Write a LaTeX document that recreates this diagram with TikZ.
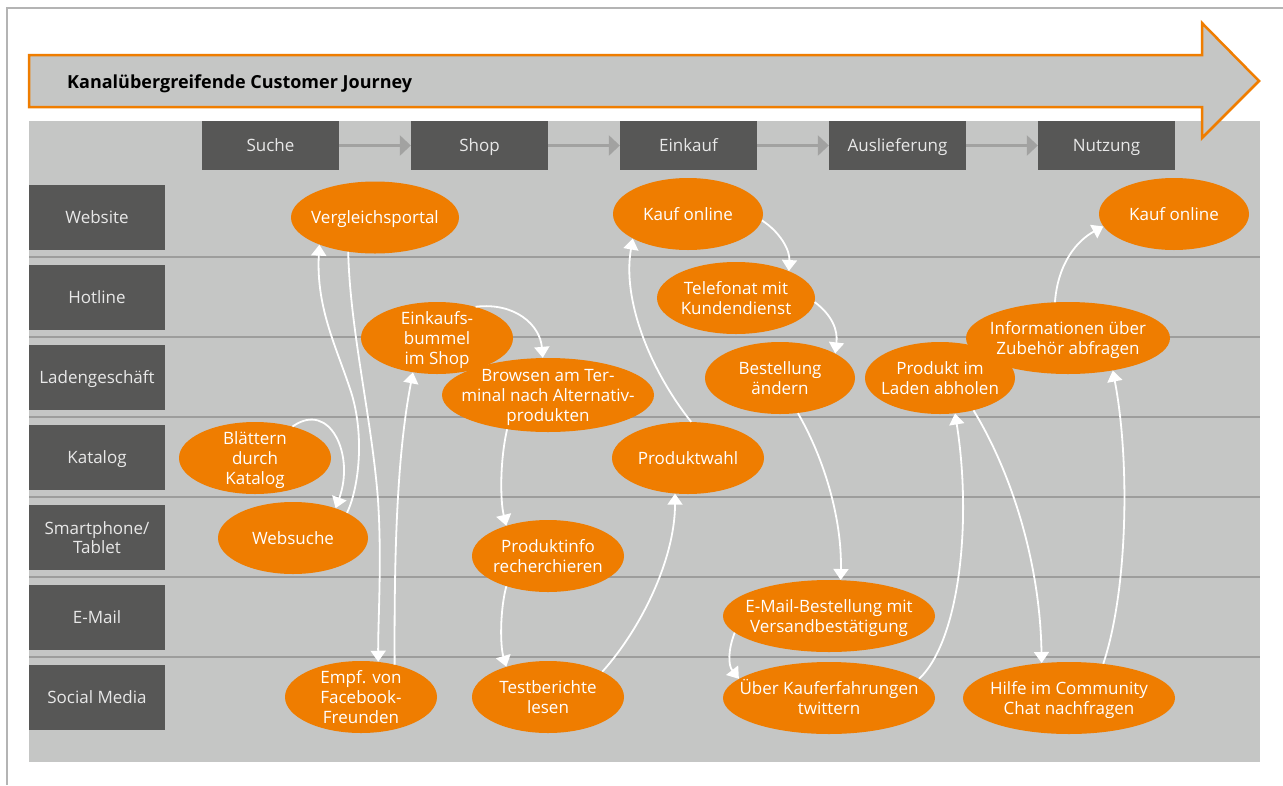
\documentclass[tikz,border=0pt]{standalone}
\usepackage{fontspec}
\setmainfont{Open Sans}
\usetikzlibrary{arrows.meta,shapes.geometric}
\definecolor{cjorange}{HTML}{EF7D00}
\definecolor{cjdark}{HTML}{575756}
\definecolor{cjbg}{HTML}{C5C6C5}
\definecolor{cjsep}{HTML}{9D9D9C}
\definecolor{cjhdrarrow}{HTML}{A2A2A1}
\definecolor{cjframe}{HTML}{B4B4B4}
\definecolor{cjlight}{HTML}{E8E8E8}
\begin{document}
\begin{tikzpicture}[x=1pt,y=-1pt,
  every node/.style={font=\fontsize{17}{20}\selectfont},
  one/.style={text height=12.2pt,text depth=0pt},
  two/.style={text height=32.2pt,text depth=0pt},
  three/.style={text height=52.2pt,text depth=0pt},
  lanebox/.style={rectangle,fill=cjdark,text=cjlight,minimum width=136pt,minimum height=65pt,inner sep=0,align=center,one},
  hdrbox/.style={rectangle,fill=cjdark,text=cjlight,minimum width=137pt,minimum height=49pt,inner sep=0,one},
  ell/.style={ellipse,fill=cjorange,draw=none,inner sep=0,minimum height=72pt},
  etext/.style={text=white,align=center,inner sep=0},
  flow/.style={draw=white,line width=1.8pt,-{Triangle[length=11pt,width=15pt]}},
  hdrflow/.style={draw=cjhdrarrow,line width=3pt,-{Triangle[length=11pt,width=20pt]}},
  sepline/.style={draw=cjsep,line width=2.5pt},
]
\useasboundingbox (0,0) rectangle (1283,785);
\fill[white] (0,0) rectangle (1283,785);
% frame
\draw[cjframe,line width=1.2pt] (7,785) -- (7,8) -- (1283,8);
% background
\fill[cjbg] (29,121) rectangle (1260,762);
% big arrow
\draw[cjorange,line width=2.5pt,fill=cjbg,line join=miter]
  (29,55) -- (1202,55) -- (1202,23) -- (1259,81) -- (1202,138) -- (1202,107) -- (29,107) -- cycle;
\node[anchor=west,font=\fontsize{18}{20}\selectfont\bfseries,inner sep=0,text height=13pt,text depth=0pt] (title) at (67,81.5) {Kanalübergreifende Customer Journey};
% separators
\foreach \yy in {257,337,417,497,577,657} {\draw[sepline] (29,\yy) -- (1260,\yy);}
% headers
\node[hdrbox] (suche) at (270.5,145.5) {Suche};
\node[hdrbox] (shop) at (479.5,145.5) {Shop};
\node[hdrbox] (einkauf) at (688.5,145.5) {Einkauf};
\node[hdrbox] (auslieferung) at (897.5,145.5) {Auslieferung};
\node[hdrbox] (nutzung) at (1106.5,145.5) {Nutzung};
\draw[hdrflow] (suche.east) -- (shop.west);
\draw[hdrflow] (shop.east) -- (einkauf.west);
\draw[hdrflow] (einkauf.east) -- (auslieferung.west);
\draw[hdrflow] (auslieferung.east) -- (nutzung.west);
% lanes
\node[lanebox] (website) at (97,217.5) {Website};
\node[lanebox] (hotline) at (97,297.5) {Hotline};
\node[lanebox] (laden) at (97,377.5) {Ladengeschäft};
\node[lanebox] (katalog) at (97,457.5) {Katalog};
\node[lanebox,text height=31.2pt,font=\fontsize{17}{19}\selectfont] (smart) at (97,537.5) {Smartphone/\\Tablet};
\node[lanebox] (emaillane) at (97,617.5) {E-Mail};
\node[lanebox] (social) at (97,697.5) {Social Media};
% ellipses
\node[ell,minimum width=168pt] (verg) at (375,217.5) {};
\node[etext,one] (verg-t) at (verg) {Vergleichsportal};
\node[ell,minimum width=150pt] (kauf1) at (688,214) {};
\node[etext,one] (kauf1-t) at (kauf1) {Kauf online};
\node[ell,minimum width=150pt] (kauf2) at (1174,214) {};
\node[etext,one] (kauf2-t) at (kauf2) {Kauf online};
\node[ell,minimum width=158pt] (tel) at (736,298) {};
\node[etext,two] (tel-t) at (tel) {Telefonat mit\\Kundendienst};
\node[ell,minimum width=152pt] (bummel) at (437,338) {};
\node[etext,three] (bummel-t) at (bummel) {Einkaufs-\\bummel\\im Shop};
\node[ell,minimum width=212pt,minimum height=74pt] (browsen) at (548,395) {};
\node[etext,three] (browsen-t) at (browsen) {Browsen am Ter-\\minal nach Alternativ-\\produkten};
\node[ell,minimum width=150pt] (bestell) at (780,378) {};
\node[etext,two] (bestell-t) at (bestell) {Bestellung\\ändern};
\node[ell,minimum width=150pt] (abholen) at (940,378) {};
\node[etext,two] (abholen-t) at (abholen) {Produkt im\\Laden abholen};
\node[ell,minimum width=204pt] (info) at (1068,338) {};
\node[etext,two] (info-t) at (info) {Informationen über\\Zubehör abfragen};
\node[ell,minimum width=152pt] (blaettern) at (255,458) {};
\node[etext,three] (blaettern-t) at (blaettern) {Blättern\\durch\\Katalog};
\node[ell,minimum width=152pt] (pwahl) at (688,458) {};
\node[etext,one] (pwahl-t) at (pwahl) {Produktwahl};
\node[ell,minimum width=150pt] (websuche) at (293,538) {};
\node[etext,one] (websuche-t) at (websuche) {Websuche};
\node[ell,minimum width=152pt] (pinfo) at (548,556) {};
\node[etext,two] (pinfo-t) at (pinfo) {Produktinfo\\recherchieren};
\node[ell,minimum width=212pt] (emailb) at (829,616) {};
\node[etext,two] (emailb-t) at (emailb) {E-Mail-Bestellung mit\\Versandbestätigung};
\node[ell,minimum width=152pt] (empf) at (361,697) {};
\node[etext,three] (empf-t) at (empf) {Empf. von\\Facebook-\\Freunden};
\node[ell,minimum width=152pt] (test) at (548,697) {};
\node[etext,two] (test-t) at (test) {Testberichte\\lesen};
\node[ell,minimum width=212pt] (ueber) at (829,698) {};
\node[etext,two] (ueber-t) at (ueber) {Über Kauferfahrungen\\twittern};
\node[ell,minimum width=212pt] (hilfe) at (1069,698) {};
\node[etext,two] (hilfe-t) at (hilfe) {Hilfe im Community\\Chat nachfragen};
% connectors
\draw[flow] (blaettern.40) .. controls (330,400) and (355,455) .. (websuche.35);
\draw[flow] (websuche.25) .. controls (358,490) and (365,440) .. (352,395) .. controls (338,350) and (316,310) .. (verg.206);
\draw[flow] (verg.232) .. controls (350,330) and (372,420) .. (378,500) .. controls (382,560) and (378,620) .. (empf.64);
\draw[flow] (empf.44) .. controls (394,540) and (398,450) .. (bummel.235);
\draw[flow] (bummel.39) .. controls (515,302) and (540,325) .. (browsen.98);
\draw[flow] (browsen.220) .. controls (500,460) and (500,500) .. (pinfo.144);
\draw[flow] (pinfo.216) .. controls (500,610) and (500,645) .. (test.144);
\draw[flow] (test.25) .. controls (640,630) and (675,560) .. (pwahl.250);
\draw[flow] (pwahl.85) .. controls (650,370) and (622,300) .. (kauf1.204);
\draw[flow] (kauf1.-5) .. controls (780,232) and (790,250) .. (tel.27);
\draw[flow] (tel.-3) .. controls (832,315) and (838,330) .. (bestell.24);
\draw[flow] (bestell.-63) .. controls (825,460) and (842,520) .. (emailb.72);
\draw[flow] (emailb.190) .. controls (728,650) and (728,665) .. (ueber.168);
\draw[flow] (ueber.12) .. controls (960,640) and (972,520) .. (abholen.-67);
\draw[flow] (abholen.-44) .. controls (1010,470) and (1040,560) .. (hilfe.128);
\draw[flow] (hilfe.45) .. controls (1128,590) and (1130,460) .. (info.-36);
\draw[flow] (info.110) .. controls (1058,262) and (1078,240) .. (kauf2.190);
\end{tikzpicture}
\end{document}
